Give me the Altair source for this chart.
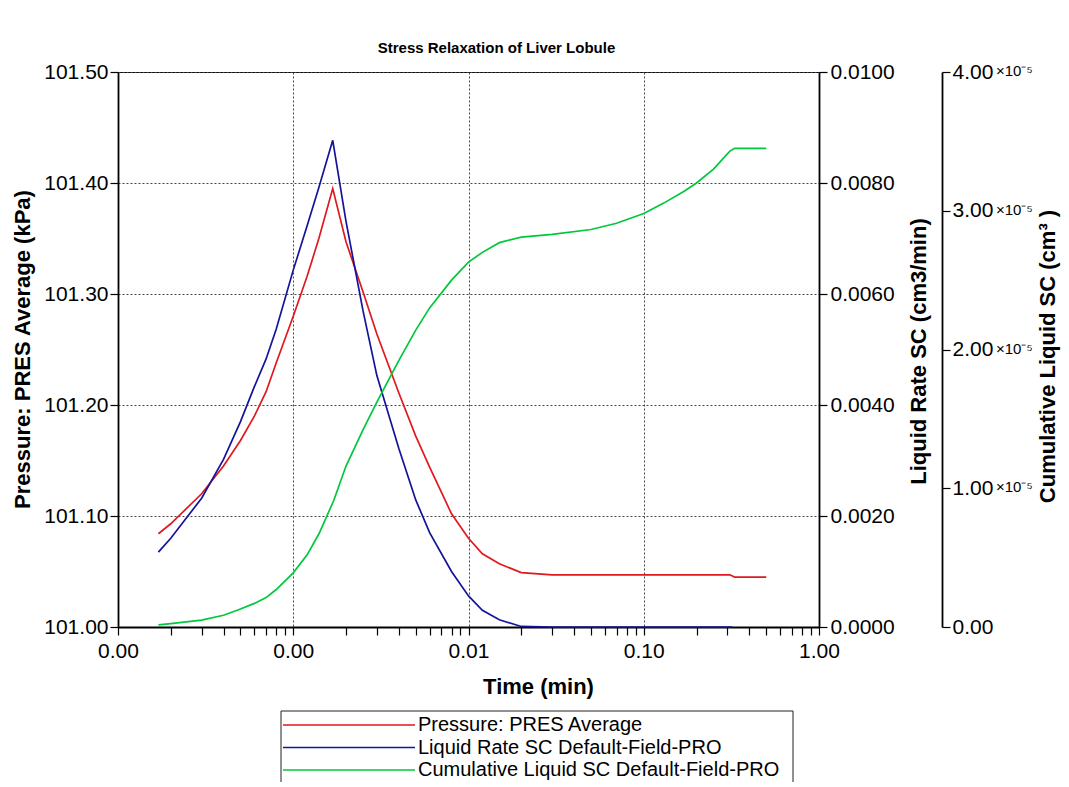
import altair as alt
import pandas as pd

# ---------------- data ----------------
t_pressure = [0.00017, 0.0002, 0.0003, 0.0004, 0.0005, 0.0006, 0.0007, 0.0008, 0.001, 0.0012,
              0.0014, 0.00168, 0.002, 0.0025, 0.003, 0.004, 0.005, 0.006, 0.008, 0.01,
              0.012, 0.015, 0.02, 0.03, 0.05, 0.1, 0.2, 0.31, 0.33, 0.5]
pressure = [101.084, 101.093, 101.120, 101.145, 101.168, 101.190, 101.212, 101.238, 101.280, 101.316,
            101.350, 101.395, 101.347, 101.302, 101.264, 101.211, 101.172, 101.144, 101.102, 101.080,
            101.066, 101.057, 101.049, 101.047, 101.047, 101.047, 101.047, 101.047, 101.045, 101.045]

t_rate = [0.00017, 0.0002, 0.0003, 0.0004, 0.0005, 0.0006, 0.0007, 0.0008, 0.001, 0.0012,
          0.0014, 0.00168, 0.002, 0.0025, 0.003, 0.004, 0.005, 0.006, 0.008, 0.01,
          0.012, 0.015, 0.02, 0.03, 0.1, 0.32]
rate = [0.00135, 0.00160, 0.00232, 0.00302, 0.00370, 0.00433, 0.00483, 0.00537, 0.00643, 0.00723,
        0.00792, 0.00877, 0.00731, 0.00570, 0.00453, 0.00322, 0.00229, 0.00170, 0.00100, 0.00056,
        0.00030, 0.00013, 0.00001, 0.0, 0.0, 0.0]

t_cum = [0.00017, 0.0002, 0.0003, 0.0004, 0.0005, 0.0006, 0.0007, 0.0008, 0.001, 0.0012,
         0.0014, 0.0017, 0.002, 0.0025, 0.003, 0.004, 0.005, 0.006, 0.008, 0.01,
         0.012, 0.015, 0.02, 0.03, 0.05, 0.07, 0.1, 0.13, 0.17, 0.2,
         0.25, 0.31, 0.33, 0.5]
cum = [1.5e-7, 2.5e-7, 5.0e-7, 8.5e-7, 1.3e-6, 1.7e-6, 2.12e-6, 2.7e-6, 3.9e-6, 5.2e-6,
       6.7e-6, 9.1e-6, 1.16e-5, 1.42e-5, 1.62e-5, 1.92e-5, 2.14e-5, 2.30e-5, 2.50e-5, 2.63e-5,
       2.70e-5, 2.77e-5, 2.81e-5, 2.83e-5, 2.865e-5, 2.91e-5, 2.98e-5, 3.055e-5, 3.14e-5, 3.20e-5,
       3.30e-5, 3.43e-5, 3.45e-5, 3.45e-5]

series_names = ["Pressure: PRES Average",
                "Liquid Rate SC Default-Field-PRO",
                "Cumulative Liquid SC Default-Field-PRO"]
series_colors = ["#e0191f", "#14149a", "#00c83c"]
legend_rows = [0, 1, 2]

x_decades = [0.0001, 0.001, 0.01, 0.1]
x_multipliers = [1, 2, 3, 4, 5, 6, 7, 8, 9]
x_tick_values = [m * d for d in x_decades for m in x_multipliers] + [1.0]
pressure_ticks = [101.0, 101.1, 101.2, 101.3, 101.4, 101.5]
rate_ticks = [0.0, 0.002, 0.004, 0.006, 0.008, 0.01]
cum_ticks = [0.0, 1e-5, 2e-5, 3e-5, 4e-5]
cum_suffix_ticks = [1e-5, 2e-5, 3e-5, 4e-5]
cum_suffix = "\u00d710\u207b\u2075"

TITLE = "Stress Relaxation of Liver Lobule"
FONT = "Liberation Sans"
W, H = 701, 555

# ---------------- tables ----------------
df_p = pd.DataFrame({"t": t_pressure, "y": pressure, "series": series_names[0]})
df_r = pd.DataFrame({"t": t_rate, "y": rate, "series": series_names[1]})
df_c = pd.DataFrame({"t": t_cum, "y": cum, "series": series_names[2]})
df_suffix = pd.DataFrame({"y": cum_suffix_ticks, "label": [cum_suffix] * len(cum_suffix_ticks)})
df_leg = pd.DataFrame({"series": series_names, "row": legend_rows})
df_box = pd.DataFrame({"k": [0]})

color = alt.Color("series:N", scale=alt.Scale(domain=series_names, range=series_colors), legend=None)

decade_test = "abs(log(datum.value)/LN10 - round(log(datum.value)/LN10)) < 0.001"

x_enc = alt.X(
    "t:Q",
    scale=alt.Scale(type="log", domain=[1e-4, 1], nice=False),
    axis=alt.Axis(
        values=x_tick_values,
        labelExpr=decade_test + " ? format(datum.value, '.2f') : ''",
        title="Time (min)", titleX=420, titleY=59, titleAlign="center", titleBaseline="middle",
        grid=True, gridDash=[2, 2], gridColor="#444444", gridWidth=1,
        gridOpacity={"condition": {"test": decade_test, "value": 1}, "value": 0},
        tickSize=8, labelPadding=5, labelFlush=False, labelOverlap=False, labelBound=False,
    ),
)

line_kw = dict(strokeWidth=1.7)

press = alt.Chart(df_p).mark_line(**line_kw).encode(
    x=x_enc,
    y=alt.Y("y:Q", scale=alt.Scale(domain=[101.0, 101.5], nice=False, zero=False),
            axis=alt.Axis(orient="left", values=pressure_ticks, format=".2f",
                          title="Pressure: PRES Average (kPa)", titleX=-96, titleY=277,
                          titleAngle=270, titleAlign="center", titleBaseline="middle",
                          grid=True, gridDash=[2, 2], gridColor="#444444", gridWidth=1,
                          tickSize=8, labelPadding=2, labelFlush=False, labelOverlap=False)),
    color=color,
)

rate_l = alt.Chart(df_r).mark_line(**line_kw).encode(
    x=x_enc,
    y=alt.Y("y:Q", scale=alt.Scale(domain=[0, 0.01], nice=False),
            axis=alt.Axis(orient="right", values=rate_ticks, format=".4f",
                          title="Liquid Rate SC (cm3/min)", titleX=99, titleY=279,
                          titleAngle=270, titleAlign="center", titleBaseline="middle",
                          grid=False, tickSize=8, labelPadding=3, labelFlush=False,
                          labelOverlap=False)),
    color=color,
)

cum_scale = alt.Scale(domain=[0, 4e-5], nice=False)
cum_axis = alt.Axis(orient="right", offset=123, values=cum_ticks,
                    labelExpr="format(datum.value * 100000, '.2f')",
                    title="Cumulative Liquid SC (cm\u00b3 )", titleX=105, titleY=284,
                    titleAngle=270, titleAlign="center", titleBaseline="middle",
                    grid=False, tickSize=8, labelPadding=2, labelFlush=False,
                    labelOverlap=False)
cum_line = alt.Chart(df_c).mark_line(**line_kw).encode(
    x=x_enc,
    y=alt.Y("y:Q", scale=cum_scale, axis=cum_axis),
    color=color,
)
cum_suffix_layer = alt.Chart(df_suffix).mark_text(
    align="left", baseline="middle", fontSize=15, font=FONT, color="black", dy=-1
).encode(
    x=alt.value(878),
    y=alt.Y("y:Q", scale=cum_scale, axis=cum_axis),
    text="label:N",
)
cum_layer = alt.layer(cum_line, cum_suffix_layer)

# ---------------- legend box ----------------
leg_y = alt.Y("row:Q", scale=alt.Scale(domain=[0, 2], range=[653, 698]), axis=None)
leg_box = alt.Chart(df_box).mark_rect(fill="white", stroke="#222222", strokeWidth=1).encode(
    x=alt.value(163), x2=alt.value(675), y=alt.value(639), y2=alt.value(730)
)
leg_lines = alt.Chart(df_leg).mark_rule(strokeWidth=1.7).encode(
    x=alt.value(165), x2=alt.value(297), y=leg_y, color=color
)
leg_text = alt.Chart(df_leg).mark_text(
    align="left", baseline="middle", fontSize=20, font=FONT, color="black"
).encode(x=alt.value(300), y=leg_y, text="series:N")
legend_layer = alt.layer(leg_box, leg_lines, leg_text)

chart = alt.layer(press, rate_l, cum_layer, legend_layer).resolve_scale(
    y="independent"
).properties(
    width=W, height=H,
    background="white",
    title=alt.TitleParams(TITLE, fontSize=15, fontWeight="bold", font=FONT, anchor="middle",
                          frame="group", offset=19, dx=28, dy=26, baseline="alphabetic",
                          color="black"),
    autosize=alt.AutoSizeParams(type="none"),
    padding={"left": 118, "top": 72, "right": 246, "bottom": 155},
).configure_view(
    stroke="black", strokeWidth=1
).configure_axis(
    labelFont=FONT, labelFontSize=21, labelColor="black",
    titleFont=FONT, titleFontSize=22, titleFontWeight="bold", titleColor="black",
    domainColor="black", domainWidth=1.8, tickColor="black", tickWidth=1.2,
)

chart.save("out.html", embed_options={"renderer": "svg", "actions": False})
